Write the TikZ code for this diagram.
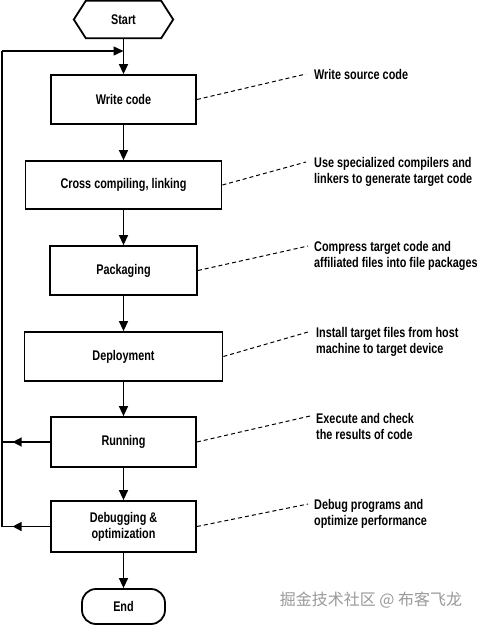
\documentclass[tikz,border=0pt]{standalone}
\usepackage{fontspec}
\setmainfont{Liberation Sans}[FakeStretch=0.775]
\newfontfamily\cjk{Noto Sans CJK SC}
\usetikzlibrary{arrows.meta,decorations.markings}
\begin{document}
\begin{tikzpicture}[x=1pt,y=-1pt,
  txt/.style={font=\bfseries\fontsize{14}{16}\selectfont},
  box/.style={draw,line width=1.8pt,minimum width=#1,minimum height=49pt,inner sep=0pt,txt,align=center},
  arr/.style={-{Triangle[length=10pt,width=9pt]},line width=1.4pt},
  fb/.style={line width=1.4pt,postaction={decorate},
     decoration={markings,mark=at position 0.78 with {\arrow{Triangle[length=9pt,width=9pt]}}}},
  lead/.style={line width=1pt,dash pattern=on 4pt off 3pt},
  note/.style={anchor=north west,inner sep=0pt,align=left,txt}]
\useasboundingbox (0,0) rectangle (480,625);

% start hexagon
\node (start) [minimum width=99pt,minimum height=37pt,inner sep=0pt,txt] at (123.5,19.5) {Start};
\draw[line width=1.8pt,line join=miter] (start.west) -- ([xshift=12pt]start.north west) -- ([xshift=-12pt]start.north east)
  -- (start.east) -- ([xshift=-12pt]start.south east) -- ([xshift=12pt]start.south west) -- cycle;

\node (write)  [box=145pt] at (123.5,99.5) {Write code};
\node (cross)  [box=196pt,minimum height=48pt] at (123.5,185) {Cross compiling, linking};
\node (pack)   [box=147pt] at (123.5,270.5) {Packaging};
\node (deploy) [box=198pt] at (123.5,356.5) {Deployment};
\node (run)    [box=145pt,minimum height=50pt] at (123.5,442) {Running};
\node (debug)  [box=145pt,minimum height=51pt] at (123.5,526.5) {Debugging \&\\optimization};
\node (end)    [draw,line width=1.8pt,rounded corners=14pt,minimum width=83pt,minimum height=35pt,inner sep=0pt,txt] at (123.5,606.5) {End};

% main flow
\coordinate (join) at (123.5,51);
\draw[line width=1.4pt] (start) -- (join);
\draw[arr] (join) -- (write);
\draw[arr] (write) -- (cross);
\draw[arr] (cross) -- (pack);
\draw[arr] (pack) -- (deploy);
\draw[arr] (deploy) -- (run);
\draw[arr] (run) -- (debug);
\draw[arr] (debug) -- (end);

% feedback
\coordinate (l1) at (2,442);
\coordinate (l2) at (2,526.5);
\coordinate (ltop) at (2,51);
\draw[fb] (run.west) -- (l1);
\draw[fb] (debug.west) -- (l2);
\draw[line width=1.4pt] (l2) -- (ltop);
\draw[arr] (ltop) -- (join);

% notes
\node (n1) [note] at (314,68.8) {Write source code};
\node (n2) [note] at (314,156.8) {Use specialized compilers and\\linkers to generate target code};
\node (n3) [note] at (314,240.8) {Compress target code and\\affiliated files into file packages};
\node (n4) [note] at (316,326.8) {Install target files from host\\machine to target device};
\node (n5) [note] at (316,412.8) {Execute and check\\the results of code};
\node (n6) [note] at (314,498.8) {Debug programs and\\optimize performance};

\coordinate (d1) at (306,74);
\coordinate (d2) at (306,162);
\coordinate (d3) at (308,246);
\coordinate (d4) at (308,332);
\coordinate (d5) at (310,416);
\coordinate (d6) at (308,504);
\draw[lead] (write.east) -- (d1);
\draw[lead] (cross.east) -- (d2);
\draw[lead] (pack.east) -- (d3);
\draw[lead] (deploy.east) -- (d4);
\draw[lead] (run.east) -- (d5);
\draw[lead] (debug.east) -- (d6);

% watermark
\node (wm) [inner sep=0pt,text=black!40,font=\cjk\fontsize{16}{18}\selectfont] at (371,600) {掘金技术社区 @ 布客飞龙};
\end{tikzpicture}
\end{document}
